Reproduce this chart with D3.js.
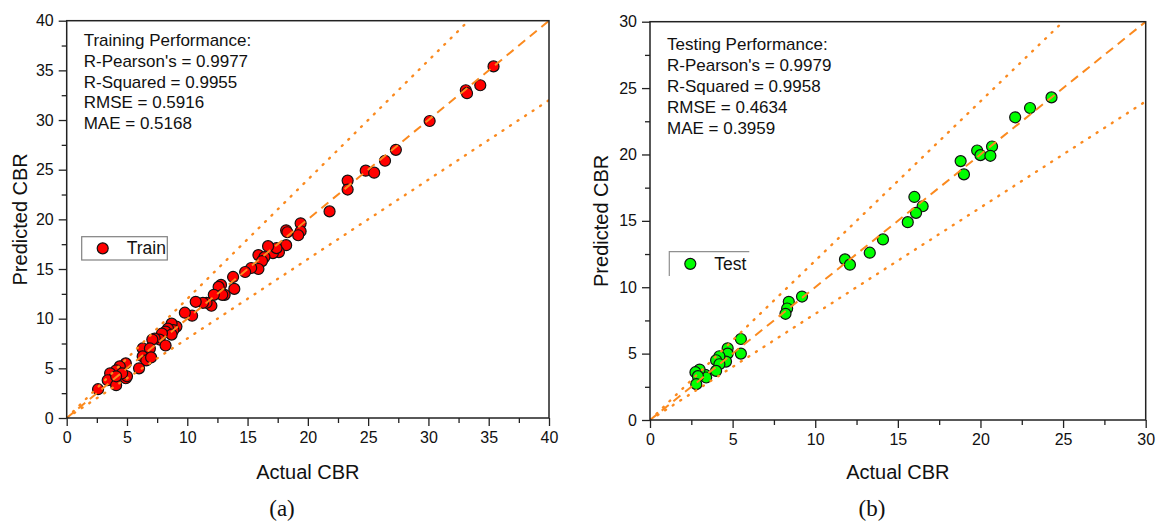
<!DOCTYPE html>
<html>
<head>
<meta charset="utf-8">
<script src="https://cdnjs.cloudflare.com/ajax/libs/d3/7.8.5/d3.min.js"></script>
<style>
  body { margin: 0; background: #fff; }
  svg { display: block; font-family: "Liberation Sans", Arial, sans-serif; }
</style>
</head>
<body>
<div id="chart"></div>
<script>
// Values
var trainActual = [35.4, 34.3, 33.1, 33.2, 30.1, 27.3, 26.4, 24.8, 25.5, 23.3, 23.3, 21.8, 19.4, 19.4, 19.2,
    18.2, 18.3, 18.2, 17.6, 17.1, 17.4, 16.7, 15.9, 16.4, 16.2, 15.9, 15.3, 14.8, 13.8, 13.9, 12.8, 12.6,
    13.1, 12.9, 12.2, 12.0, 11.6, 11.3, 10.7, 10.4, 9.8, 9.1, 8.7, 8.85, 8.4, 8.2, 8.7, 7.9, 7.7, 7.3, 7.1,
    8.2, 6.3, 6.9, 6.3, 6.6, 7.0, 6.0, 4.9, 4.4, 4.1, 3.6, 3.9, 3.4, 4.9, 5.0, 4.1, 2.6, 4.6, 4.1];
var trainPredicted = [35.4, 33.5, 33.0, 32.7, 29.9, 27.0, 25.9, 24.9, 24.7, 23.9, 23.0, 20.8, 19.6, 18.8, 18.4,
    18.9, 18.7, 17.4, 16.7, 16.6, 17.1, 17.3, 16.4, 16.2, 15.8, 15.0, 15.1, 14.7, 14.2, 13.0, 13.4, 13.2,
    12.4, 12.4, 12.4, 11.3, 11.6, 11.6, 11.7, 10.3, 10.6, 9.2, 9.5, 8.85, 9.0, 8.7, 8.4, 8.5, 7.9, 8.0, 7.9,
    7.3, 7.0, 7.0, 6.2, 5.8, 6.1, 5.0, 5.5, 5.2, 4.8, 4.5, 4.0, 3.8, 4.0, 4.2, 3.3, 2.9, 4.5, 4.2];

var testActual = [24.3, 23.0, 22.1, 20.7, 19.8, 20.0, 20.6, 18.8, 19.0, 16.0, 16.5, 16.1, 15.6, 14.1, 13.3,
    11.8, 12.1, 9.2, 8.4, 8.3, 8.2, 5.5, 5.5, 4.7, 4.7, 4.6, 4.2, 4.0, 4.2, 4.0, 3.35, 3.4, 3.0, 2.75, 2.9, 2.8];
var testPredicted = [24.3, 23.5, 22.8, 20.6, 20.3, 19.95, 19.9, 19.5, 18.5, 16.8, 16.1, 15.6, 14.9, 13.6, 12.6,
    12.1, 11.7, 9.3, 8.9, 8.4, 8.0, 6.1, 5.0, 5.4, 5.0, 4.4, 4.8, 4.5, 4.2, 3.7, 3.4, 3.2, 3.8, 3.6, 3.3, 2.7];

var trainStats = ["Training Performance:", "R-Pearson's = 0.9977", "R-Squared = 0.9955", "RMSE = 0.5916", "MAE = 0.5168"];
var testStats = ["Testing Performance:", "R-Pearson's = 0.9979", "R-Squared = 0.9958", "RMSE = 0.4634", "MAE = 0.3959"];

var trainTicks = [0, 5, 10, 15, 20, 25, 30, 35, 40];
var testTicks = [0, 5, 10, 15, 20, 25, 30];

// upper / lower +-20% bounds around the 1:1 line
var boundSlopes = [1.2, 0.8];

var W = 1156, H = 523;
var lineColor = '#fb8a1f';

var svg = d3.select('#chart').append('svg')
    .attr('width', W)
    .attr('height', H);

function drawPanel(cfg) {
    var x = d3.scaleLinear().domain(cfg.domain).range([cfg.left, cfg.right]);
    var y = d3.scaleLinear().domain(cfg.domain).range([cfg.bottom, cfg.top]);
    var g = svg.append('g');

    var step = cfg.ticks[1] - cfg.ticks[0];
    var minor = cfg.ticks.slice(0, -1).map(function(t) { return t + step / 2; });

    var clipId = 'clip-' + cfg.id;
    svg.append('clipPath').attr('id', clipId)
        .append('rect')
        .attr('x', cfg.left).attr('y', cfg.top)
        .attr('width', cfg.right - cfg.left).attr('height', cfg.bottom - cfg.top);

    // minor ticks
    g.append('g')
        .attr('transform', 'translate(0,' + cfg.bottom + ')')
        .call(d3.axisBottom(x).tickValues(minor).tickSize(5).tickFormat(''))
        .call(function(a) { a.select('.domain').remove(); });
    g.append('g')
        .attr('transform', 'translate(' + cfg.left + ',0)')
        .call(d3.axisLeft(y).tickValues(minor).tickSize(5).tickFormat(''))
        .call(function(a) { a.select('.domain').remove(); });

    // major ticks
    var xAxis = g.append('g')
        .attr('transform', 'translate(0,' + cfg.bottom + ')')
        .call(d3.axisBottom(x).tickValues(cfg.ticks).tickSize(8).tickPadding(6));
    var yAxis = g.append('g')
        .attr('transform', 'translate(' + cfg.left + ',0)')
        .call(d3.axisLeft(y).tickValues(cfg.ticks).tickSize(8).tickPadding(5));
    [xAxis, yAxis].forEach(function(a) {
        a.select('.domain').remove();
        a.selectAll('text')
            .attr('fill', '#111')
            .style('font-size', '16px')
            .style('font-family', '"Liberation Sans", Arial, sans-serif');
    });
    g.selectAll('.tick line').attr('stroke', '#222').attr('stroke-width', 1.3);

    // points
    var pts = d3.zip(cfg.actual, cfg.predicted);
    g.append('g').selectAll('circle')
        .data(pts)
        .enter()
        .append('circle')
        .attr('cx', function(d) { return x(d[0]); })
        .attr('cy', function(d) { return y(d[1]); })
        .attr('r', 5.5)
        .attr('fill', cfg.color)
        .attr('stroke', '#111')
        .attr('stroke-width', 1.2);

    // reference lines drawn over the markers
    var lines = g.append('g').attr('clip-path', 'url(#' + clipId + ')');
    var dmax = cfg.domain[1];
    lines.append('line')
        .attr('x1', x(0)).attr('y1', y(0))
        .attr('x2', x(dmax)).attr('y2', y(dmax))
        .attr('stroke', lineColor)
        .attr('stroke-width', 2)
        .attr('stroke-dasharray', '9,6');
    boundSlopes.forEach(function(s) {
        lines.append('line')
            .attr('x1', x(0)).attr('y1', y(0))
            .attr('x2', x(dmax)).attr('y2', y(dmax * s))
            .attr('stroke', lineColor)
            .attr('stroke-width', 2.4)
            .attr('stroke-linecap', 'round')
            .attr('stroke-dasharray', '1,8');
    });

    // frame
    g.append('rect')
        .attr('x', cfg.left).attr('y', cfg.top)
        .attr('width', cfg.right - cfg.left).attr('height', cfg.bottom - cfg.top)
        .attr('fill', 'none')
        .attr('stroke', '#222')
        .attr('stroke-width', 1.5);

    // stats text
    g.append('g').selectAll('text')
        .data(cfg.stats)
        .enter()
        .append('text')
        .attr('x', cfg.left + 17)
        .attr('y', function(d, i) { return cfg.statsY + i * 20.8; })
        .attr('dy', '0.35em')
        .style('font-size', '17px')
        .attr('fill', '#111')
        .text(function(d) { return d; });

    // legend
    var lg = g.append('g');
    if (cfg.fullLegendBox) {
        lg.append('rect')
            .attr('x', cfg.legend.x).attr('y', cfg.legend.y)
            .attr('width', cfg.legend.w).attr('height', cfg.legend.h)
            .attr('fill', '#fff')
            .attr('stroke', '#808080')
            .attr('stroke-width', 1.2);
    } else {
        lg.append('path')
            .attr('d', 'M' + cfg.legend.x + ',' + (cfg.legend.y + cfg.legend.h) +
                'V' + cfg.legend.y + 'H' + (cfg.legend.x + cfg.legend.w))
            .attr('fill', 'none')
            .attr('stroke', '#909090')
            .attr('stroke-width', 1.2);
    }
    lg.append('circle')
        .attr('cx', cfg.legend.x + 21)
        .attr('cy', cfg.legend.y + cfg.legend.h / 2)
        .attr('r', 5.5)
        .attr('fill', cfg.color)
        .attr('stroke', '#111')
        .attr('stroke-width', 1.2);
    lg.append('text')
        .attr('x', cfg.legend.x + 45)
        .attr('y', cfg.legend.y + cfg.legend.h / 2)
        .attr('dy', '0.35em')
        .style('font-size', '17.5px')
        .attr('fill', '#111')
        .text(cfg.name);

    // axis titles
    svg.append('text')
        .attr('x', (cfg.left + cfg.right) / 2)
        .attr('y', 472)
        .attr('dy', '0.35em')
        .attr('text-anchor', 'middle')
        .style('font-size', '20px')
        .attr('fill', '#111')
        .text('Actual CBR');
    svg.append('text')
        .attr('transform', 'translate(' + cfg.yTitleX + ',' + ((cfg.top + cfg.bottom) / 2) + ') rotate(-90)')
        .attr('dy', '0.35em')
        .attr('text-anchor', 'middle')
        .style('font-size', '20px')
        .attr('fill', '#111')
        .text('Predicted CBR');
    svg.append('text')
        .attr('x', cfg.captionX)
        .attr('y', 508)
        .attr('dy', '0.35em')
        .attr('text-anchor', 'middle')
        .style('font-family', '"Liberation Serif", "Times New Roman", serif')
        .style('font-size', '23px')
        .attr('fill', '#111')
        .text(cfg.caption);
}

drawPanel({
    id: 'train', name: 'Train', color: '#ff0000',
    actual: trainActual, predicted: trainPredicted,
    domain: [0, 40], ticks: trainTicks, stats: trainStats,
    left: 66.7, right: 549, top: 20.7, bottom: 418,
    statsY: 40,
    legend: {x: 81.7, y: 236.7, w: 85.6, h: 23.3}, fullLegendBox: true,
    yTitleX: 20, captionX: 282, caption: '(a)'
});

drawPanel({
    id: 'test', name: 'Test', color: '#00ff00',
    actual: testActual, predicted: testPredicted,
    domain: [0, 30], ticks: testTicks, stats: testStats,
    left: 650, right: 1145.7, top: 21.7, bottom: 420,
    statsY: 44.5,
    legend: {x: 669.3, y: 251.7, w: 80, h: 24.3}, fullLegendBox: false,
    yTitleX: 601, captionX: 872, caption: '(b)'
});
</script>
</body>
</html>
